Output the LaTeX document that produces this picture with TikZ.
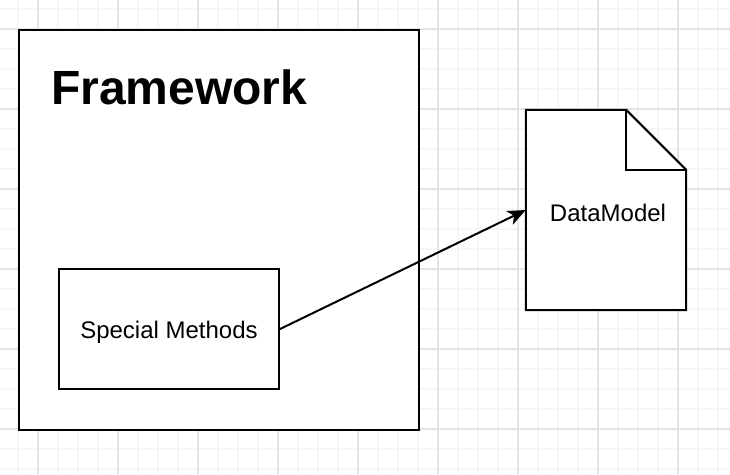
\documentclass[tikz,border=0pt]{standalone}
\usepackage{fontspec}
\setmainfont{Liberation Sans}
\usetikzlibrary{arrows.meta}
\definecolor{gridminor}{HTML}{F6F6F6}
\definecolor{gridmajor}{HTML}{E4E4E4}
\tikzset{
  boxnode/.style={draw=black, line width=2pt, fill=white, inner sep=0pt, font=\fontsize{24}{28}\selectfont},
  flow/.style={draw=black, line width=2pt, -{Stealth[length=18pt, width=15pt, inset=5pt]}},
}
\begin{document}
\begin{tikzpicture}[x=1pt, y=-1pt]
\useasboundingbox (0,0) rectangle (730,474);
\fill[white] (0,0) rectangle (730,474);
% grid
\foreach \x in {-2,18,...,730} \draw[gridminor, line width=1.2pt] (\x,0) -- (\x,474);
\foreach \y in {9,29,...,474} \draw[gridminor, line width=1.2pt] (0,\y) -- (730,\y);
\foreach \x in {38,118,...,730} \draw[gridmajor, line width=1.5pt] (\x,0) -- (\x,474);
\foreach \y in {29,109,...,474} \draw[gridmajor, line width=1.5pt] (0,\y) -- (730,\y);
% framework
\node[boxnode, minimum width=400pt, minimum height=400pt] (fw) at (218.5,229.5) {};
\node[anchor=base west, inner sep=0pt, font=\bfseries\fontsize{48}{52}\selectfont] (fwlabel) at (51,104) {Framework};
\node[boxnode, minimum width=220pt, minimum height=120pt, text height=20pt, text depth=1.5pt] (sm) at (169,329) {Special Methods};
% data model document
\node[inner sep=0pt, minimum width=160pt, minimum height=200pt, font=\fontsize{24}{28}\selectfont] (dm) at (606,210) {};
\draw[line width=2pt, fill=white, line join=miter]
  (dm.north west) -- ([xshift=-60pt]dm.north east) -- ([yshift=-60pt]dm.north east)
  -- (dm.south east) -- (dm.south west) -- cycle;
\draw[line width=2pt, line join=miter]
  ([xshift=-60pt]dm.north east) -- ([xshift=-60pt,yshift=-60pt]dm.north east) -- ([yshift=-60pt]dm.north east);
\node[inner sep=0pt, font=\fontsize{24}{28}\selectfont] (dmlabel) at (608,213) {DataModel};
% connector
\draw[flow] (sm.east) -- (dm.west);
\end{tikzpicture}
\end{document}
